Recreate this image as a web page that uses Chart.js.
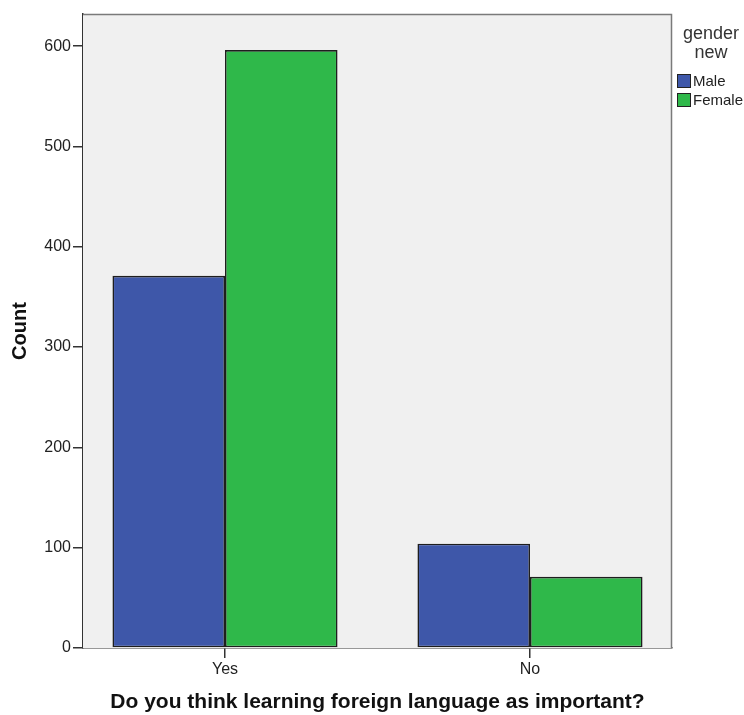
<!DOCTYPE html>
<html>
<head>
<meta charset="utf-8">
<script src="https://cdn.jsdelivr.net/npm/chart.js@4/dist/chart.umd.min.js"></script>
<style>
  html, body { margin: 0; padding: 0; background: #fff; }
  #wrap { width: 744px; height: 715px; }
</style>
</head>
<body>
<div id="wrap"><canvas id="c" width="744" height="715"></canvas></div>
<script>
// categories and counts
const categories = ['Yes', 'No'];
const maleCounts = [371, 104];
const femaleCounts = [596, 71];
const seriesNames = ['Male', 'Female'];
const yTicks = [0, 100, 200, 300, 400, 500, 600];
const legendTitle = ['gender', 'new'];

const colors = ['#3e57a9', '#2fb84a'];
const FONT = '"Liberation Sans", Arial, sans-serif';

// plot frame: light grey fill plus top/right border
const framePlugin = {
  id: 'frame',
  beforeDatasetsDraw(chart) {
    const a = chart.chartArea, ctx = chart.ctx;
    ctx.save();
    ctx.fillStyle = '#f0f0f0';
    ctx.fillRect(a.left, a.top, a.right - a.left, a.bottom - a.top);
    ctx.restore();
  },
  afterDatasetsDraw(chart) {
    const a = chart.chartArea, ctx = chart.ctx;
    ctx.save();
    ctx.strokeStyle = '#7a7a7a';
    ctx.lineWidth = 1.5;
    ctx.beginPath();
    ctx.moveTo(a.left, a.top + 0.5);
    ctx.lineTo(a.right - 0.5, a.top + 0.5);
    ctx.lineTo(a.right - 0.5, a.bottom);
    ctx.stroke();
    ctx.restore();
  }
};

// SPSS-style legend at the right of the plot
const legendPlugin = {
  id: 'spssLegend',
  afterDraw(chart) {
    const ctx = chart.ctx;
    const x0 = chart.chartArea.right + 5;
    ctx.save();
    ctx.fillStyle = '#333';
    ctx.font = '18px ' + FONT;
    ctx.textAlign = 'center';
    ctx.textBaseline = 'middle';
    legendTitle.forEach((t, i) => ctx.fillText(t, 711, 34 + i * 19));
    ctx.textAlign = 'left';
    ctx.font = '15px ' + FONT;
    chart.data.datasets.forEach((ds, i) => {
      const y = 74 + i * 19;
      ctx.fillStyle = ds.backgroundColor;
      ctx.fillRect(x0, y, 14, 14);
      ctx.strokeStyle = '#222';
      ctx.lineWidth = 1;
      ctx.strokeRect(x0 + 0.5, y + 0.5, 13, 13);
      ctx.fillStyle = '#222';
      ctx.fillText(ds.label, x0 + 16, y + 8);
    });
    ctx.restore();
  }
};

const datasets = [maleCounts, femaleCounts].map((vals, s) => ({
  label: seriesNames[s],
  data: vals.map((v, i) => ({ x: i, y: v })),
  backgroundColor: colors[s],
  borderColor: '#1e1e1e',
  borderWidth: 1.6,
  borderSkipped: false,
  barPercentage: 1,
  categoryPercentage: 0.738,
}));

new Chart(document.getElementById('c'), {
  type: 'bar',
  data: { datasets },
  options: {
    responsive: false,
    animation: false,
    layout: { padding: { top: 14, right: 72, left: 0, bottom: 0 } },
    scales: {
      x: {
        type: 'linear',
        min: -0.4656,
        max: 1.4656,
        offset: false,
        afterBuildTicks: (s) => { s.ticks = categories.map((c, i) => ({ value: i })); },
        afterFit: (s) => { s.height = 67; },
        ticks: {
          callback: (v) => categories[v],
          color: '#222',
          font: { family: FONT, size: 16 },
          padding: 2,
          maxRotation: 0,
        },
        grid: { offset: false, drawOnChartArea: false, tickLength: 10, color: '#333', lineWidth: 1.5 },
        border: { display: true, color: '#333', width: 1.5 },
        title: {
          display: true,
          text: 'Do you think learning foreign language as important?',
          color: '#111',
          font: { family: FONT, size: 21, weight: 'bold' },
          padding: { top: 6, bottom: 0 },
        },
      },
      y: {
        min: 0,
        max: 632,
        afterBuildTicks: (s) => { s.ticks = yTicks.map((v) => ({ value: v })); },
        afterFit: (s) => { s.width = 83; },
        ticks: {
          color: '#222',
          font: { family: FONT, size: 16 },
          padding: 2,
        },
        grid: { drawOnChartArea: false, tickLength: 10, color: '#333', lineWidth: 1.5 },
        border: { display: true, color: '#333', width: 1.5 },
        title: {
          display: true,
          text: 'Count',
          color: '#111',
          font: { family: FONT, size: 20, weight: 'bold' },
          padding: { top: 8, bottom: 6 },
        },
      },
    },
    plugins: {
      legend: { display: false },
      tooltip: { enabled: false },
    },
  },
  plugins: [framePlugin, legendPlugin],
});
</script>
</body>
</html>
